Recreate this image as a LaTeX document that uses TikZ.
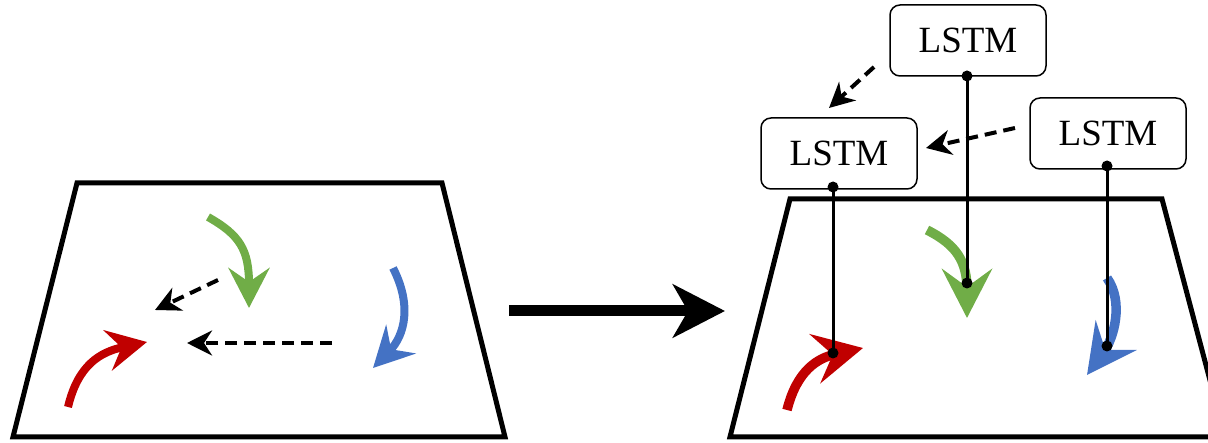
\documentclass[tikz,border=0pt]{standalone}
\usepackage{fontspec}
\setmainfont{Liberation Serif}
\usetikzlibrary{arrows.meta}
\definecolor{mgreen}{HTML}{70AD47}
\definecolor{mblue}{HTML}{4472C4}
\definecolor{mred}{HTML}{C00000}
\tikzset{
  plane/.style={line width=5pt, line join=miter},
  trajS/.style={line width=8pt, -{Stealth[length=40pt,width=41pt,inset=14pt]}},
  trajL/.style={line width=9.5pt, -{Stealth[length=49pt,width=50pt,inset=18pt]}},
  dasharr/.style={line width=4pt, dash pattern=on 12pt off 7pt, -{Stealth[length=25pt,width=25pt,inset=8pt]}},
  lstm/.style={draw, line width=1.5pt, rounded corners=10pt, minimum width=156pt, minimum height=71pt, inner sep=0pt, font=\fontsize{37pt}{40pt}\selectfont},
  conn/.style={line width=3pt},
  dot/.style={fill=black}
}
\begin{document}
\begin{tikzpicture}[x=1pt,y=-1pt]
\useasboundingbox (0,0) rectangle (1208,443);
% left plane
\draw[plane] (77,183) -- (442,183) -- (505,437) -- (13,437) -- cycle;
\coordinate (gL0) at (208,217); \coordinate (gL1) at (249,308);
\coordinate (bL0) at (393,268); \coordinate (bL1) at (373,368);
\coordinate (rL0) at (68,407);  \coordinate (rL1) at (147,342);
\draw[trajS, mgreen] (gL0) .. controls (240,235) and (249,250) .. (gL1);
\draw[trajS, mblue] (bL0) .. controls (412,305) and (405,335) .. (bL1);
\draw[trajS, mred] (rL0) .. controls (78,365) and (100,352) .. (rL1);
\coordinate (dA0) at (218,280); \coordinate (dA1) at (155,310);
\coordinate (dB0) at (332,343); \coordinate (dB1) at (187,343);
\draw[dasharr] (dA0) -- (dA1);
\draw[dasharr] (dB0) -- (dB1);
% big arrow
\coordinate (big0) at (509,311); \coordinate (big1) at (725,311);
\draw[line width=11pt, -{Stealth[length=52pt,width=53pt,inset=15pt]}] (big0) -- (big1);
% right plane
\draw[plane] (790,199) -- (1162,199) -- (1225,437) -- (730,437) -- cycle;
\coordinate (gR0) at (927,230); \coordinate (gR1) at (967,318);
\coordinate (bR0) at (1107,278); \coordinate (bR1) at (1087,375);
\coordinate (rR0) at (787,410); \coordinate (rR1) at (863,348);
\draw[trajL, mgreen] (gR0) .. controls (957,245) and (967,262) .. (gR1);
\draw[trajL, mblue] (bR0) .. controls (1124,302) and (1114,338) .. (bR1);
\draw[trajL, mred] (rR0) .. controls (797,370) and (818,358) .. (rR1);
% LSTM nodes
\node[lstm, fill=white] (lstmT) at (968,40.5) {LSTM};
\node[lstm, fill=white] (lstmL) at (839,153.5) {LSTM};
\node[lstm, fill=white] (lstmR) at (1108,133.5) {LSTM};
% connectors
\coordinate (pT0) at (967,76);  \coordinate (pT1) at (967,283);
\coordinate (pL0) at (833,187); \coordinate (pL1) at (833,353);
\coordinate (pR0) at (1107,166); \coordinate (pR1) at (1107,346);
\draw[conn] (pT0) -- (pT1);
\draw[conn] (pL0) -- (pL1);
\draw[conn] (pR0) -- (pR1);
\foreach \p in {pT0,pT1,pL0,pL1,pR0,pR1} \fill[dot] (\p) circle (5.5pt);
% dashed arrows between LSTMs
\coordinate (dC0) at (874,67); \coordinate (dC1) at (829,108);
\coordinate (dD0) at (1015,128); \coordinate (dD1) at (926,148);
\draw[dasharr] (dC0) -- (dC1);
\draw[dasharr] (dD0) -- (dD1);
\end{tikzpicture}
\end{document}
